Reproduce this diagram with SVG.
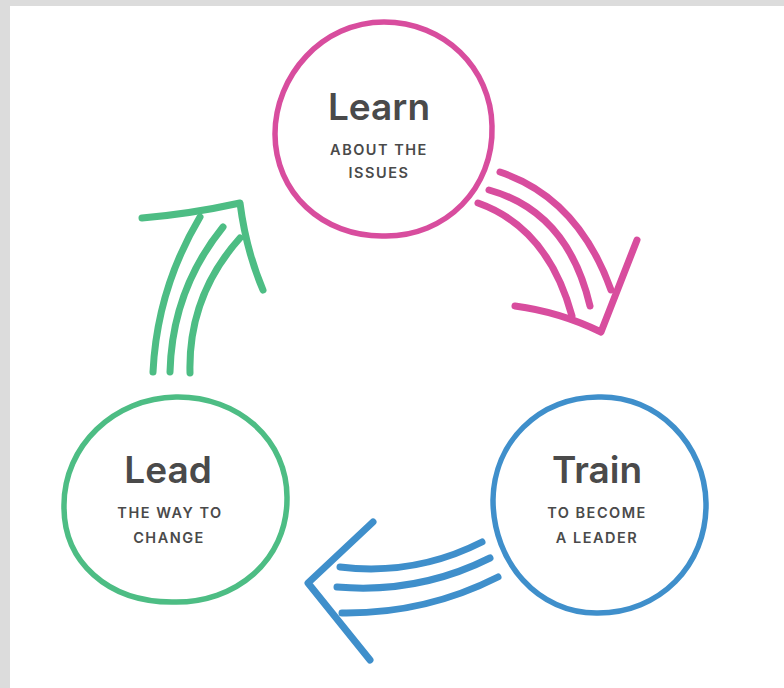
<svg xmlns="http://www.w3.org/2000/svg" width="784" height="688" viewBox="0 0 784 688">
<style>
.ring{fill:none;stroke-width:5.5;stroke-linecap:round;stroke-linejoin:round}
.arr{fill:none;stroke-width:7;stroke-linecap:round;stroke-linejoin:round}
.pink{stroke:#d84d9e}
.blue{stroke:#3f8fcb}
.green{stroke:#4dbd84}
.title{font-family:Inter,"Noto Sans","Liberation Sans",sans-serif;font-weight:600;font-size:37px;fill:#4a4a4a;text-anchor:middle}
.sub{font-family:Inter,"Noto Sans","Liberation Sans",sans-serif;font-weight:600;font-size:14.5px;letter-spacing:1.5px;fill:#4a4a4a;text-anchor:middle}
</style>
<rect x="0" y="0" width="784" height="688" fill="#dcdcdc"/>
<rect x="10" y="6" width="774" height="682" fill="#ffffff"/>

<g id="learn">
<path class="ring pink" d="M 384 22 C 444 22, 491 68, 492 126 C 494 188, 446 237, 384 236 C 322 237, 275 192, 275 134 C 275 76, 322 22, 384 22 Z"/>
<text class="title" x="379" y="120">Learn</text>
<text class="sub" x="379" y="155">ABOUT THE</text>
<text class="sub" x="379" y="178">ISSUES</text>
</g>

<g id="train">
<path class="ring blue" d="M 598 397 C 658 395, 705 445, 706 503 C 707 566, 659 613, 598 613 C 538 614, 493 562, 493 500 C 494 442, 538 398, 598 397 Z"/>
<text class="title" x="597" y="483">Train</text>
<text class="sub" x="597" y="518">TO BECOME</text>
<text class="sub" x="597" y="543">A LEADER</text>
</g>

<g id="lead">
<path class="ring green" d="M 176 397 C 238 396, 288 440, 287 499 C 287 560, 236 604, 172 602 C 108 602, 63 562, 64 505 C 64 446, 114 398, 176 397 Z"/>
<text class="title" x="168" y="483">Lead</text>
<text class="sub" x="170" y="518">THE WAY TO</text>
<text class="sub" x="169" y="543">CHANGE</text>
</g>

<g id="connectors">
<g id="arrow-learn-train">
<path class="arr pink" d="M 500 172 Q 578 198 611 290"/>
<path class="arr pink" d="M 489 190 Q 568 212 590 306"/>
<path class="arr pink" d="M 478 203 Q 548 228 572 316"/>
<path class="arr pink" d="M 515 306 Q 560 312 601 332 L 637 240"/>
</g>
<g id="arrow-train-lead">
<path class="arr blue" d="M 482 542 Q 415 576 340 567"/>
<path class="arr blue" d="M 490 558 Q 418 594 337 587"/>
<path class="arr blue" d="M 498 577 Q 425 614 342 613"/>
<path class="arr blue" d="M 373 522 L 308 583 L 370 660"/>
</g>
<g id="arrow-lead-learn">
<path class="arr green" d="M 153 372 Q 157 289 200 217"/>
<path class="arr green" d="M 170 372 Q 172 290 223 227"/>
<path class="arr green" d="M 190 373 Q 188 296 240 238"/>
<path class="arr green" d="M 142 218 Q 190 214 240 203 Q 246 250 263 290"/>
</g>
</g>
</svg>
